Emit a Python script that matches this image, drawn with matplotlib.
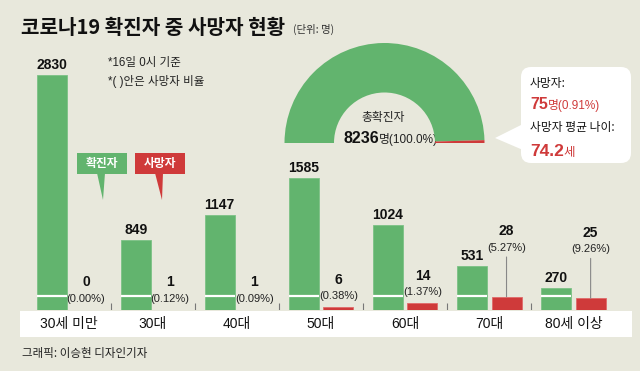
import matplotlib
matplotlib.use('Agg')
import matplotlib.pyplot as plt
from matplotlib.patches import Rectangle, Polygon, FancyBboxPatch

plt.rcParams['font.family'] = ['Liberation Sans', 'Noto Sans CJK KR', 'DejaVu Sans']

groups = ['30세 미만', '30대', '40대', '50대', '60대', '70대', '80세 이상']
confirmed = [2830, 849, 1147, 1585, 1024, 531, 270]
deaths = [0, 1, 1, 6, 14, 28, 25]
total_confirmed = 8236
total_deaths = 75
mean_age = 74.2

GREEN = '#62b46e'
RED = '#cf3a3a'
BG = '#e8e8dc'
KR = ['Noto Sans CJK KR', 'DejaVu Sans']


def pt(px):
    return px * 0.72


fig = plt.figure(figsize=(6.4, 3.71), dpi=100, facecolor=BG)

# overlay in pixel coords for decorations
ov = fig.add_axes([0, 0, 1, 1], zorder=0)
ov.set_xlim(0, 640)
ov.set_ylim(371, 0)
ov.axis('off')

ax = fig.add_axes([20 / 640, 1 - 310 / 371, 612 / 640, 270 / 371], zorder=2)
ax.set_facecolor('none')
ax2 = ax.twinx()
ax2.set_zorder(3)
for a in (ax, ax2):
    for s in a.spines.values():
        s.set_visible(False)
    a.set_xticks([])
    a.set_yticks([])

x = list(range(len(groups)))
off, w = 0.205, 0.357
xg = [i - off for i in x]
xr = [i + off for i in x]

ax.bar(xg, confirmed, width=w, color=GREEN, edgecolor='#7cc286', linewidth=0.6)
ax.set_xlim(-0.58, 6.697)
ax.set_ylim(0, 3252)
for v in xg:
    ax.hlines(168, v - w / 2, v + w / 2, color='white', lw=1.6)
ax.vlines([i + 0.5 for i in x[:-1]], 0, 85, color='#777777', lw=0.8)

for xi, v in zip(xg, confirmed):
    ax.annotate(f'{v}', (xi, v), xytext=(0, pt(10)), textcoords='offset points',
                ha='center', va='center', fontsize=10, fontweight='bold', color='#111')

ax2.bar(xr, deaths, width=w, color=RED, edgecolor='#e06a6a', linewidth=0.6)
ax2.set_ylim(0, 574)

for xi, d, c in zip(xr, deaths, confirmed):
    rate = d / c * 100
    if d >= 20:
        lift = 49
        ax2.annotate(f'({rate:.2f}%)', (xi, d), xytext=(0, pt(lift)), textcoords='offset points',
                     ha='center', va='center', fontsize=8, color='#222',
                     arrowprops=dict(arrowstyle='-', color='#888888', lw=0.8, shrinkA=1, shrinkB=0))
    else:
        lift = 11
        ax2.annotate(f'({rate:.2f}%)', (xi, d), xytext=(0, pt(lift)), textcoords='offset points',
                     ha='center', va='center', fontsize=8, color='#222')
    ax2.annotate(f'{d}', (xi, d), xytext=(0, pt(lift + 16.5)), textcoords='offset points',
                 ha='center', va='center', fontsize=10, fontweight='bold', color='#111')

# white category strip
ov.add_patch(Rectangle((20, 311), 612, 26, facecolor='white', edgecolor='none'))
for i, g in enumerate(groups):
    ov.text(68.75 + 84.1 * i, 324, g, ha='center', va='center', fontsize=10, color='#111')

# title and notes
ov.text(21, 27, '코로나19 확진자 중 사망자 현황', ha='left', va='center', fontsize=14.5,
        fontweight='bold', color='#111', family=KR)
ov.text(293, 29, '(단위: 명)', ha='left', va='center', fontsize=7.5, color='#333', family=KR)
ov.text(108, 63, '*16일 0시 기준', ha='left', va='center', fontsize=8.3, color='#222')
ov.text(108, 82, '*( )안은 사망자 비율', ha='left', va='center', fontsize=8.3, color='#222')
ov.text(22, 354, '그래픽: 이승현 디자인기자', ha='left', va='center', fontsize=8.3, color='#222', family=KR)

# legend tags
ov.add_patch(Rectangle((77, 153), 50, 21, facecolor=GREEN, edgecolor='none'))
ov.add_patch(Polygon([(97, 173), (105, 173), (103, 200)], facecolor=GREEN, edgecolor='none'))
ov.text(102, 163.5, '확진자', ha='center', va='center', fontsize=8.5, fontweight='bold', color='white', family=KR)
ov.add_patch(Rectangle((135, 153), 50, 21, facecolor=RED, edgecolor='none'))
ov.add_patch(Polygon([(155, 173), (163, 173), (162, 200)], facecolor=RED, edgecolor='none'))
ov.text(160, 163.5, '사망자', ha='center', va='center', fontsize=8.5, fontweight='bold', color='white', family=KR)

# half donut
dax = fig.add_axes([284.5 / 640, 1 - 243 / 371, 200 / 640, 200 / 371], zorder=4)
dax.pie([total_confirmed - total_deaths, total_deaths, total_confirmed], startangle=180,
        counterclock=False, colors=[GREEN, RED, 'none'],
        wedgeprops=dict(width=0.495, linewidth=0))
dax.set_xlim(-1, 1)
dax.set_ylim(-1, 1)
dax.set_facecolor('none')
ov.text(383, 117, '총확진자', ha='center', va='center', fontsize=8.5, color='#222', family=KR)
t = ov.text(343, 143, f'{total_confirmed}', ha='left', va='baseline', fontsize=11.5,
            fontweight='bold', color='#111')
ov.annotate(f'명({100:.1f}%)', xy=(1, 0), xycoords=t, ha='left', va='bottom',
            fontsize=8.5, color='#222')

# callout box
ov.add_patch(FancyBboxPatch((521, 67), 110, 96, boxstyle='round,pad=0,rounding_size=10',
                            facecolor='white', edgecolor='none'))
ov.add_patch(Polygon([(523, 124), (523, 150), (495, 138)], facecolor='white', edgecolor='none'))
ov.text(530, 83, '사망자:', ha='left', va='center', fontsize=8.5, color='#111', family=KR)
t1 = ov.text(530, 109, f'{total_deaths}', ha='left', va='baseline', fontsize=11.5,
             fontweight='bold', color=RED)
ov.annotate(f'명({total_deaths / total_confirmed * 100:.2f}%)', xy=(1, 0), xycoords=t1,
            ha='left', va='bottom', fontsize=8.5, color=RED)
ov.text(530, 128, '사망자 평균 나이:', ha='left', va='center', fontsize=8.5, color='#111', family=KR)
t2 = ov.text(530, 156, f'{mean_age}', ha='left', va='baseline', fontsize=12.5,
             fontweight='bold', color=RED)
ov.annotate('세', xy=(1, 0), xycoords=t2, ha='left', va='bottom', fontsize=9, color=RED)

fig.savefig('out.png', dpi=100, facecolor=BG)
